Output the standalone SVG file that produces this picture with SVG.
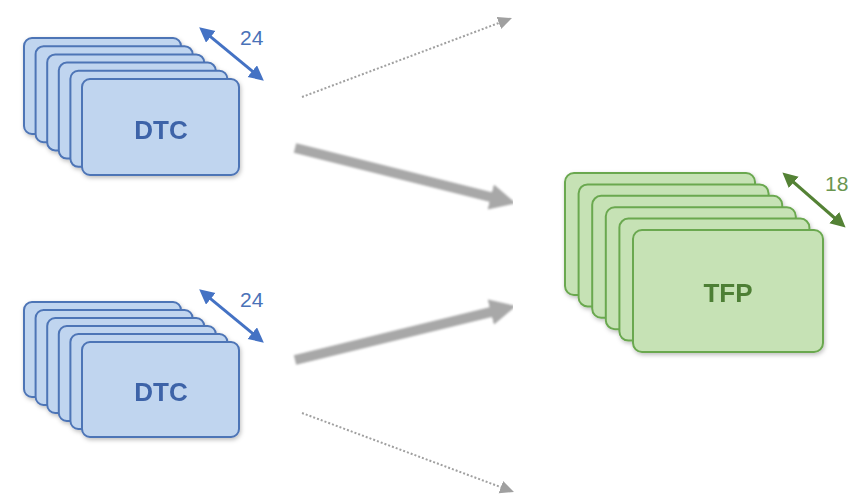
<svg xmlns="http://www.w3.org/2000/svg" width="851" height="495" viewBox="0 0 851 495">
<style>
.dtc rect{fill:#C0D5EF;stroke:#4D74B6;stroke-width:2}
.tfp rect{fill:#C6E2B5;stroke:#6AA84F;stroke-width:2}
.lbl{font-family:"Liberation Sans",Arial,sans-serif;font-weight:bold;font-size:26px;text-anchor:middle}
.num{font-family:"Liberation Sans",Arial,sans-serif;font-size:21px}
.thick{stroke:#A8A8A8;stroke-width:10;fill:none}
.dot{stroke:#A0A0A0;stroke-width:2;stroke-dasharray:2 2;fill:none}
</style>
<defs>
<filter id="soft" x="-10%" y="-10%" width="120%" height="120%"><feGaussianBlur stdDeviation="1.2"/></filter>
<filter id="shadow" x="-10%" y="-10%" width="125%" height="130%"><feDropShadow dx="1" dy="2" stdDeviation="2" flood-color="#000" flood-opacity="0.25"/></filter>
<marker id="bigHead" markerUnits="userSpaceOnUse" markerWidth="28" markerHeight="28" refX="2" refY="13" orient="auto"><path d="M0,0 L26,13 L0,26 z" fill="#A8A8A8"/></marker>
<marker id="smallHead" markerUnits="userSpaceOnUse" markerWidth="16" markerHeight="14" refX="1" refY="6.5" orient="auto"><path d="M0,0 L14,6.5 L0,13 z" fill="#A0A0A0"/></marker>
<marker id="blueHead" markerUnits="userSpaceOnUse" markerWidth="16" markerHeight="16" refX="2" refY="7.5" orient="auto-start-reverse"><path d="M0,0 L15,7.5 L0,15 z" fill="#4472C4"/></marker>
<marker id="greenHead" markerUnits="userSpaceOnUse" markerWidth="16" markerHeight="16" refX="2" refY="7.5" orient="auto-start-reverse"><path d="M0,0 L15,7.5 L0,15 z" fill="#548235"/></marker>
</defs>
<rect width="851" height="495" fill="#FFFFFF"/>

<g id="connectors">
<g filter="url(#soft)">
<line class="thick" x1="295" y1="148" x2="492.6" y2="197.5" marker-end="url(#bigHead)"/>
<line class="thick" x1="295" y1="360" x2="492.7" y2="311.7" marker-end="url(#bigHead)"/>
</g>
<line class="dot" x1="302" y1="97" x2="499.8" y2="22.6" marker-end="url(#smallHead)"/>
<line class="dot" x1="302" y1="413" x2="501.8" y2="487.5" marker-end="url(#smallHead)"/>
</g>

<g id="dtc-top" class="dtc" filter="url(#shadow)">
<rect x="24" y="38" width="157" height="96" rx="8"/>
<rect x="35.6" y="46.2" width="157" height="96" rx="8"/>
<rect x="47.2" y="54.4" width="157" height="96" rx="8"/>
<rect x="58.8" y="62.6" width="157" height="96" rx="8"/>
<rect x="70.4" y="70.8" width="157" height="96" rx="8"/>
<rect x="82" y="79" width="157" height="96" rx="8"/>
<text class="lbl" x="161" y="139" fill="#3E64A8">DTC</text>
</g>
<g id="dtc-top-count">
<line x1="209.2" y1="35.6" x2="253.8" y2="72.4" stroke="#4472C4" stroke-width="3" marker-start="url(#blueHead)" marker-end="url(#blueHead)"/>
<text class="num" x="240" y="45" fill="#4A72B8">24</text>
</g>

<g id="dtc-bottom" class="dtc" filter="url(#shadow)">
<rect x="24" y="302" width="157" height="95" rx="8"/>
<rect x="35.6" y="310" width="157" height="95" rx="8"/>
<rect x="47.2" y="318" width="157" height="95" rx="8"/>
<rect x="58.8" y="326" width="157" height="95" rx="8"/>
<rect x="70.4" y="334" width="157" height="95" rx="8"/>
<rect x="82" y="342" width="157" height="95" rx="8"/>
<text class="lbl" x="161" y="401" fill="#3E64A8">DTC</text>
</g>
<g id="dtc-bottom-count">
<line x1="209.2" y1="297.6" x2="253.8" y2="334.4" stroke="#4472C4" stroke-width="3" marker-start="url(#blueHead)" marker-end="url(#blueHead)"/>
<text class="num" x="240" y="307" fill="#4A72B8">24</text>
</g>

<g id="tfp" class="tfp" filter="url(#shadow)">
<rect x="565" y="173" width="190" height="122" rx="9"/>
<rect x="578.6" y="184.4" width="190" height="122" rx="9"/>
<rect x="592.2" y="195.8" width="190" height="122" rx="9"/>
<rect x="605.8" y="207.2" width="190" height="122" rx="9"/>
<rect x="619.4" y="218.6" width="190" height="122" rx="9"/>
<rect x="633" y="230" width="190" height="122" rx="9"/>
<text class="lbl" x="728" y="302" fill="#4E7F34">TFP</text>
</g>
<g id="tfp-count">
<line x1="792.2" y1="181.0" x2="835.8" y2="219.0" stroke="#548235" stroke-width="3" marker-start="url(#greenHead)" marker-end="url(#greenHead)"/>
<text class="num" x="825" y="191" fill="#6A9650">18</text>
</g>
</svg>
